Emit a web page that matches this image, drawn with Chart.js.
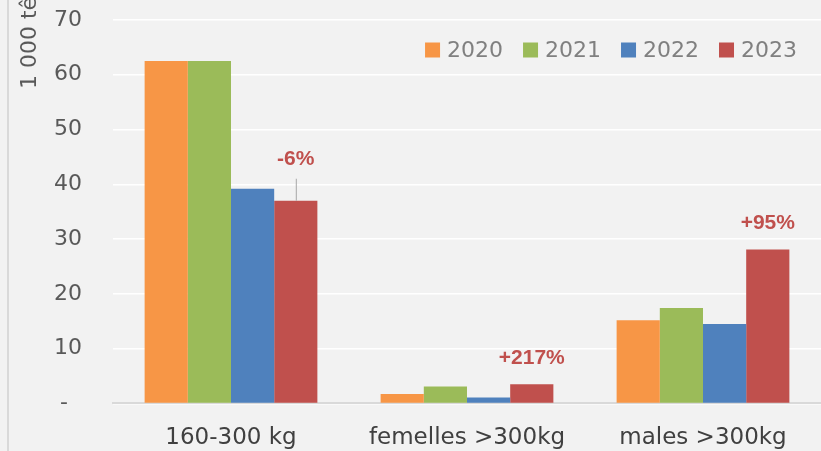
<!DOCTYPE html>
<html>
<head>
<meta charset="utf-8">
<script src="https://cdn.jsdelivr.net/npm/chart.js@4/dist/chart.umd.min.js"></script>
<style>
  html, body { margin: 0; padding: 0; background: #f2f2f2; }
  #wrap { position: relative; width: 821px; height: 451px; overflow: hidden; }
  #edge { position: absolute; left: 7px; top: 0; width: 2px; height: 451px; background: #d9d9d9; }
  canvas { position: absolute; left: 0; top: 0; }
</style>
</head>
<body>
<div id="wrap">
  <div id="edge"></div>
  <canvas id="c" width="821" height="451"></canvas>
</div>
<script>
const categories = ['160-300 kg', 'femelles >300kg', 'males >300kg'];
const seriesNames = ['2020', '2021', '2022', '2023'];
const v2020 = [62.5, 1.7, 15.2];
const v2021 = [62.5, 3.1, 17.4];
const v2022 = [39.2, 1.1, 14.5];
const v2023 = [37.0, 3.5, 28.1];
const changeLabels = ['-6%', '+217%', '+95%'];
const yTicks = [0, 10, 20, 30, 40, 50, 60, 70];
const yTitle = '1 000 têtes';

const colors = ['#f79646', '#9bbb59', '#4f81bd', '#c0504d'];
const values = [v2020, v2021, v2022, v2023];

const FONT = '"DejaVu Sans", sans-serif';

const annotPlugin = {
  id: 'annot',
  afterDatasetsDraw(chart) {
    const ctx = chart.ctx;
    const meta = chart.getDatasetMeta(3);
    ctx.save();
    ctx.font = 'bold 21px "Liberation Sans", Arial, sans-serif';
    ctx.fillStyle = '#c0504d';
    ctx.textAlign = 'center';
    ctx.textBaseline = 'middle';
    meta.data.forEach((el, i) => {
      const withLeader = i === 0;
      const off = withLeader ? 42 : 26;
      ctx.fillText(changeLabels[i], el.x, el.y - off);
      if (withLeader) {
        ctx.strokeStyle = '#a6a6a6';
        ctx.lineWidth = 1;
        ctx.beginPath();
        ctx.moveTo(el.x + 0.5, el.y);
        ctx.lineTo(el.x + 0.5, el.y - 22);
        ctx.stroke();
      }
    });
    ctx.restore();
  }
};

const legendPlugin = {
  id: 'inlegend',
  afterDraw(chart) {
    const ctx = chart.ctx;
    const a = chart.chartArea;
    const ds = chart.data.datasets;
    ctx.save();
    ctx.font = '22px ' + FONT;
    ctx.textBaseline = 'middle';
    ctx.textAlign = 'left';
    const box = 15, gapBT = 7, gapItems = 20;
    const widths = ds.map(d => box + gapBT + ctx.measureText(d.label).width);
    const total = widths.reduce((s, w) => s + w, 0) + gapItems * (ds.length - 1);
    let x = a.right - 24 - total;
    const cy = a.top + 30;
    ds.forEach((d, i) => {
      ctx.fillStyle = d.backgroundColor;
      ctx.fillRect(x, cy - box / 2, box, box);
      ctx.fillStyle = '#808080';
      ctx.fillText(d.label, x + box + gapBT, cy + 1);
      x += widths[i] + gapItems;
    });
    ctx.restore();
  }
};

const yTitlePlugin = {
  id: 'ytitle',
  afterDraw(chart) {
    const ctx = chart.ctx;
    const a = chart.chartArea;
    ctx.save();
    ctx.translate(a.left - 83, a.top + 69);
    ctx.rotate(-Math.PI / 2);
    ctx.font = '22px ' + FONT;
    ctx.fillStyle = '#595959';
    ctx.textAlign = 'left';
    ctx.textBaseline = 'middle';
    ctx.fillText(yTitle, 0, 0);
    ctx.restore();
  }
};

new Chart(document.getElementById('c'), {
  type: 'bar',
  data: {
    labels: categories,
    datasets: seriesNames.map((n, i) => ({
      label: n,
      data: values[i],
      backgroundColor: colors[i],
      borderWidth: 0,
      barPercentage: 1.0,
      categoryPercentage: 0.732
    }))
  },
  options: {
    responsive: false,
    animation: false,
    devicePixelRatio: 1,
    layout: { padding: { top: 20, right: 0, bottom: -22, left: 0 } },
    plugins: {
      legend: { display: false },
      tooltip: { enabled: false }
    },
    scales: {
      x: {
        grid: { display: false, drawTicks: false },
        border: { color: '#d9d9d9', width: 2 },
        ticks: { color: '#404040', padding: 21, font: { family: FONT, size: 23 } }
      },
      y: {
        min: 0,
        max: 70,
        afterBuildTicks(scale) { scale.ticks = yTicks.map(v => ({ value: v })); },
        afterFit(scale) { scale.width = 113; scale.paddingTop = 0; scale.paddingBottom = 0; },
        grid: { color: '#ffffff', lineWidth: 1.5, drawTicks: false },
        border: { display: false },
        ticks: {
          color: '#595959',
          padding: 31,
          font: { family: FONT, size: 22 },
          callback: v => v === 0 ? '-  ' : String(v)
        }
      }
    }
  },
  plugins: [annotPlugin, legendPlugin, yTitlePlugin]
});
</script>
</body>
</html>
